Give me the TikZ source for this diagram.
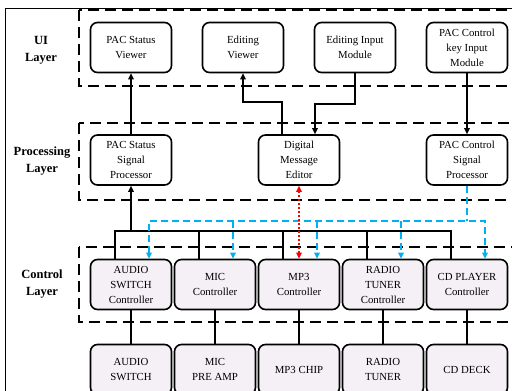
\documentclass[tikz,border=0pt]{standalone}
\usepackage{fontspec}
\setmainfont{Liberation Serif}
\usetikzlibrary{arrows.meta}
\definecolor{lblue}{RGB}{0,176,240}
\definecolor{boxfill}{RGB}{245,240,245}
\begin{document}
\begin{tikzpicture}[x=1pt,y=-1pt,
  mod/.style={draw, line width=1.6pt, rounded corners=7pt, minimum width=81pt, minimum height=50pt, align=center, font=\fontsize{10.8}{15}\selectfont, inner sep=1pt},
  ctl/.style={mod, fill=boxfill},
  layerbox/.style={draw, line width=1.8pt, dash pattern=on 11pt off 6pt},
  conn/.style={line width=2pt},
  tip/.style={-{Triangle[length=6pt,width=5.5pt]}},
  dtip/.style={{Triangle[length=6pt,width=5.5pt]}-{Triangle[length=6pt,width=5.5pt]}},
  bluebus/.style={lblue, line width=2pt, dash pattern=on 7pt off 4pt},
  lab/.style={font=\fontsize{12.5}{17}\selectfont\bfseries, align=center}
]
\useasboundingbox (0,0) rectangle (512,391);
% outer frame
\draw[line width=1pt] (5.5,400) -- (5.5,8.5) -- (520,8.5);
% layer boxes
\draw[layerbox] (79,10) rectangle (540,86);
\draw[layerbox] (79,123) rectangle (540,200);
\draw[layerbox] (79,247) rectangle (540,322);
% layer labels
\node[lab] (lui) at (41,50) {UI\\Layer};
\node[lab] (lproc) at (42,161) {Processing\\Layer};
\node[lab] (lctl) at (42,284.5) {Control\\Layer};
% UI layer
\node[mod] (psv) at (131,47.5) {PAC Status\\Viewer};
\node[mod] (ev) at (243,47.5) {Editing\\Viewer};
\node[mod] (eim) at (355,47.5) {Editing Input\\Module};
\node[mod] (pckim) at (467,47.5) {PAC Control\\key Input\\Module};
% Processing layer
\node[mod] (pssp) at (131,160) {PAC Status\\Signal\\Processor};
\node[mod] (dme) at (299,160) {Digital\\Message\\Editor};
\node[mod] (pcsp) at (467,160) {PAC Control\\Signal\\Processor};
% Control layer
\node[ctl] (asc) at (131,284.5) {AUDIO\\SWITCH\\Controller};
\node[ctl] (micc) at (215,284.5) {MIC\\Controller};
\node[ctl] (mp3c) at (299,284.5) {MP3\\Controller};
\node[ctl] (rtc) at (383,284.5) {RADIO\\TUNER\\Controller};
\node[ctl] (cdpc) at (467,284.5) {CD PLAYER\\Controller};
% Devices
\node[ctl] (asw) at (131,369.5) {AUDIO\\SWITCH};
\node[ctl] (mic) at (215,369.5) {MIC\\PRE AMP};
\node[ctl] (mp3) at (299,369.5) {MP3 CHIP};
\node[ctl] (rt) at (383,369.5) {RADIO\\TUNER};
\node[ctl] (cd) at (467,369.5) {CD DECK};
% UI <-> processing
\draw[conn,tip] (pssp.north) -- (psv.south);
\draw[conn,tip] ([xshift=-17pt]dme.north) -- ++(0,-32) -| (ev.south);
\draw[conn,tip] (eim.south) -- ++(0,30.5) -| ([xshift=16pt]dme.north);
\draw[conn,tip] (pckim.south) -- (pcsp.north);
% black bus
\coordinate (bj) at (131,231);
\draw[conn,tip] (bj) -- (pssp.south);
\draw[conn] ([xshift=-16pt]asc.north) |- (bj);
\draw[conn] ([xshift=-16pt]cdpc.north) |- (bj);
\foreach \n in {micc,mp3c,rtc}
  \draw[conn] ([xshift=-16pt]\n.north) -- ([xshift=-16pt]\n.north |- bj);
% blue bus
\coordinate (bj2) at (467,221);
\draw[bluebus] (pcsp.south) -- (bj2);
\draw[bluebus,dtip] ([xshift=18pt]asc.north) |- (bj2) -| ([xshift=18pt]cdpc.north);
\foreach \n in {micc,mp3c,rtc}
  \draw[bluebus,tip] ([xshift=18pt]\n.north |- bj2) -- ([xshift=18pt]\n.north);
% red dotted
\draw[red, line width=2pt, dash pattern=on 2pt off 2pt, dtip] (dme.south) -- (mp3c.north);
% controllers to devices
\draw[conn] (asc.south) -- (asw.north);
\draw[conn] (micc.south) -- (mic.north);
\draw[conn] (mp3c.south) -- (mp3.north);
\draw[conn] (rtc.south) -- (rt.north);
\draw[conn] (cdpc.south) -- (cd.north);
\end{tikzpicture}
\end{document}
